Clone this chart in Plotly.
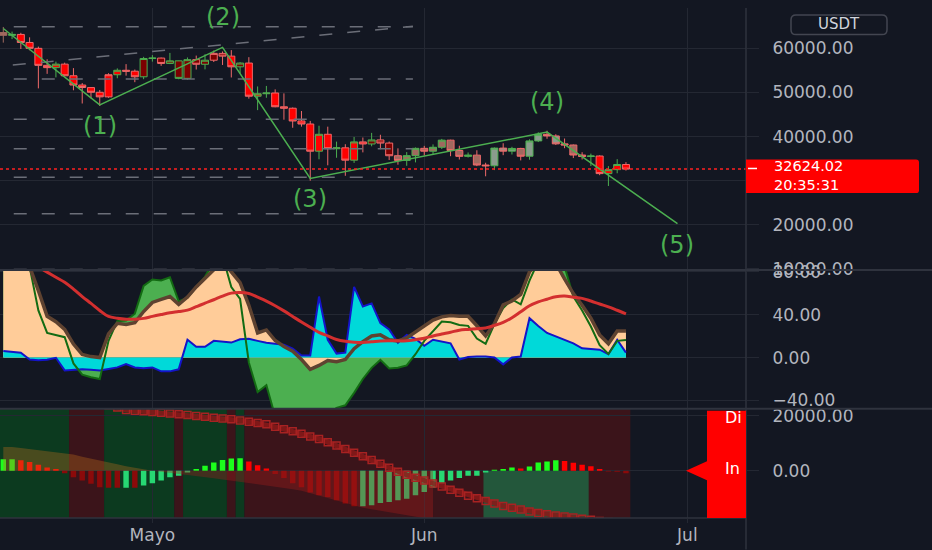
import pandas as pd
import plotly.graph_objects as go
from plotly.subplots import make_subplots

# ---------------- data ----------------
dates = pd.date_range("2021-04-14", periods=72, freq="D")

open_ = [63575, 62959, 63159, 61334, 60006, 56150, 55633, 56425, 53787, 51690,
         51110, 50047, 49004, 54021, 55033, 54824, 53556, 57697, 57797, 56578,
         57169, 53200, 57436, 56393, 57314, 58862, 58240, 55816, 56670, 49150,
         49716, 49880, 46760, 46431, 43538, 42850, 36690, 40526, 37252, 37449,
         34655, 38796, 38324, 39241, 38529, 35663, 34605, 35678, 37332, 36684,
         37575, 39188, 36840, 35520, 35797, 33552, 33381, 37389, 36693, 37313,
         35546, 39020, 40516, 40144, 38349, 38092, 35820, 35483, 35600, 31608,
         32509, 33675]
high = [64854, 63800, 63520, 62500, 60400, 57526, 57000, 56757, 55521, 52131,
        51166, 50567, 54356, 55460, 56428, 55195, 58075, 58458, 57911, 58970,
        57200, 57936, 58360, 58650, 59500, 59300, 59600, 56862, 58000, 51367,
        51483, 50700, 49800, 46600, 45800, 43550, 42462, 42250, 38856, 38270,
        39920, 39791, 40841, 40411, 38877, 37338, 36488, 37533, 37894, 38225,
        39476, 39289, 37925, 36400, 36900, 34069, 37534, 38491, 37680, 37450,
        39380, 40978, 41330, 40527, 39559, 38202, 36457, 36137, 35750, 33298,
        34881, 34200]
low = [61300, 62100, 59850, 59580, 50931, 54221, 53421, 53695, 50500, 47500,
       48657, 46930, 48800, 53225, 53813, 52330, 53013, 57000, 56035, 56435,
       53000, 52900, 55200, 55241, 56900, 56235, 53400, 54370, 48600, 46000,
       48800, 46650, 43825, 42001, 42250, 30000, 34850, 33488, 35200, 31111,
       34031, 36419, 37800, 37134, 34684, 33632, 33379, 34153, 35666, 35920,
       37170, 35555, 34800, 35250, 33300, 31000, 32400, 35784, 35937, 34600,
       34757, 38757, 39506, 38116, 37365, 35129, 34803, 33336, 31251, 28805,
       31683, 32300]
close = [62959, 63159, 61334, 60006, 56150, 55633, 56425, 53787, 51690, 51125,
         50047, 49004, 54021, 55033, 54824, 53556, 57697, 57797, 56578, 57169,
         53200, 57436, 56393, 57314, 58862, 58240, 55816, 56670, 49150, 49716,
         49880, 46760, 46431, 43538, 42850, 36690, 40526, 37252, 37449, 34655,
         38796, 38324, 39241, 38529, 35663, 34605, 35678, 37332, 36684, 37575,
         39188, 36840, 35520, 35797, 33552, 33381, 37389, 36693, 37313, 35546,
         39020, 40516, 40144, 38349, 38092, 35820, 35483, 35600, 31608, 32509,
         33678, 32624.02]
# body colour class per candle: R red, D dark red, B brown, G grey, g green
body_cls = "BgRRRRRRRR" "RRRRRRDgDD" "DDDDDDRDRR" "RRRRRRRRRR" "RRDDDBBBBB" "BBBBBRGGGB" "GGGGBBBgRR" "RR"
# wick colour class per candle: p pink, g green, B brown
wick_cls = "Bgppppgppp" "pppgppggpg" "ggpgpppgpg" "gpppppgpgp" "gpgpppggpg" "gppgppgpgp" "ggpppppgpg" "gp"

# oscillator pane
osc_fast = [100, 100, 95, 85, 62.6, 38.6, 33.5, 26.3, 12.6, 2.8,
            0.9, 0, 22, 32, 31, 32.6, 43, 51.5, 54.3, 57,
            49.7, 56.5, 66, 74.5, 83, 90, 80, 70, 48.8, 23,
            25.8, 15.9, 10.4, 5.9, -1.8, -11, -7.4, -2.8, -3.9, -1.8,
            8.3, 14.9, 20.2, 21.2, 16.6, 15.6, 18.4, 24, 29.4, 35,
            38, 39.3, 38.6, 38.6, 29.7, 20.2, 31.6, 49.2, 52.9, 58.9,
            80, 90, 95, 88, 73.6, 59.8, 48.8, 36.8, 21.2, 12.9,
            24.8, 24.8]
osc_signal = [100, 100, 100, 85, 44, 23, 21.2, 19, -5.5, -16,
              -18.4, -20, 15.6, 34, 34.6, 41, 67, 73, 72, 75,
              52.4, 56, 65.8, 75.4, 90, 95, 65.8, 54.7, -4.6, -32.2,
              -25.8, -55, -65, -70, -70, -68, -62, -53, -47, -44.6,
              -33, -20, -9.6, -2.2, -10.3, -9.6, -7.4, 3.1, 15.6, 24.6,
              33.7, 33, 30.5, 29.6, 17.8, 12.9, 31.3, 46.2, 54.3, 49.7,
              71.8, 90, 100, 95, 85, 57, 43.9, 29, 11.6, 3.3,
              15.6, 16.4]
osc_blue = [6.2, 5.5, 4.6, -1.8, -2.5, -2, -0.2, -12, -11.5, -11,
            -11.5, -12, -10.6, -9.2, -6, -9.2, -10, -9.2, -12.9, -12.9,
            -11, 16.6, 10, 10, 15.6, 15, 14, 17, 17.5, 15.6,
            13.8, 12.9, 12, 8.3, 1.8, 1.8, 57, 16.6, 3.7, 4.6,
            66, 47.8, 50.6, 32.2, 26.2, 13.8, 21.2, 17.5, 11, 16.6,
            15.2, 13.3, -1.8, 0.5, 0.9, 0.9, 0, -6.4, 0, 0.9,
            36.8, 29.4, 23, 19.8, 16.6, 13.2, 8.6, 7.8, 7.4, 3.2,
            16.6, 4.6]
osc_ma = [104, 99, 94, 89, 84.6, 79.8, 75, 70.3, 64, 57,
          50.6, 44, 38.4, 36.8, 35.9, 35.9, 36.6, 38.5, 40.2, 41.8,
          43, 44.3, 47.5, 50.8, 54, 57.4, 60.2, 60.7, 59.9, 56.4,
          52.7, 48.4, 43.6, 38.4, 33.2, 28.3, 23.6, 20.2, 16.9, 15.2,
          14.4, 14.1, 14.7, 15.4, 15.6, 15.6, 15.6, 16.7, 18.1, 20.2,
          22, 23.7, 25.6, 26.3, 26.9, 27.6, 30, 32.9, 37.2, 42.8,
          48.4, 52, 54.5, 56.8, 57.4, 56.4, 55.3, 52.8, 50, 47.4,
          44.2, 40.8]

# bottom pane
hist = [4170, 4170, 3810, 3210, 2140, 1190, 600, -950, -2380, -3570,
        -4760, -5950, -6190, -6190, -6190, -6190, -5360, -4520, -3570, -2380,
        -1790, -600, 600, 1790, 2980, 3930, 4400, 4520, 3330, 2020,
        830, -1190, -2620, -4520, -5950, -7900, -8930, -9520, -10710, -11900,
        -12850, -12850, -12490, -11660, -11310, -10710, -10120, -8930, -7740, -6190,
        -4520, -3570, -2620, -1790, -1790, -600, 400, 600, 1190, 830,
        1550, 2980, 3330, 3810, 3570, 2860, 2140, 1670, 600, -240,
        -360, -950]
hist_cls = "GGRRRRRDDD" "DDDDLDLLLL" "LLGGGGGGRR" "RDDDDDDDDD" "DLLLLLLLLL" "LLLLLLGGGR" "GGGGRRRRRD" "DD"
slow_line = [8570, 8570, 8210, 7860, 7500, 7140, 6790, 6430, 5860, 5110,
             4360, 3570, 2930, 2320, 1640, 1000, 500, 0, -360, -710,
             -1070, -1430, -1790, -2140, -2710, -3140, -3570, -4000, -4290, -4710,
             -5210, -5710, -6210, -6710, -7290, -8180, -9070, -9960, -10860, -11710,
             -12610, -13430, -13930, -14500, -15040, -15610, -16140, -16680, -17210, -17750]
chain_line = [31000, 30400, 29800, 29200, 28600, 28000, 27400, 26800, 26200, 25600,
              25000, 24400, 23800, 22900, 22070, 21790, 21570, 21290, 21070, 20790,
              20500, 20180, 19860, 19570, 19250, 18930, 18640, 18210, 17750, 17290,
              16820, 15930, 15070, 14290, 13390, 12460, 11540, 10360, 9110, 7860,
              6540, 5250, 3930, 2500, 1070, -360, -1500, -2540, -3570, -4640,
              -5750, -6860, -7960, -9040, -10000, -10960, -11930, -12750, -13430, -14070,
              -14750, -15290, -15750, -16210, -16640, -17000, -17400, -17800, -18200, -18600,
              -19000, -19400]
band_cls = "ggggggggrrrrggggggggrgggggrg" "rrrrrrrrrrr" "rrrrrrrrrrr" "rrrrrrrrrrr" "rrrrrrrrrrr"
zone_x = ["2021-06-07 18:00", "2021-06-19 18:00"]

# drawings on the price pane
wave_x = ["2021-04-14", "2021-04-25", "2021-05-09", "2021-05-19", "2021-06-15", "2021-06-29 21:00"]
wave_y = [64500, 47200, 60220, 30500, 41030, 20270]
wave_labels = ["", "(1)", "(2)", "(3)", "(4)", "(5)"]
wave_side = [0, -1, 1, -1, 1, -1]
fib_levels = [64910, 53080, 43930, 37230, 30760, 22500, 9850]
fib_x = ["2021-04-12", "2021-05-30 17:00"]
trend_x = ["2021-04-15 02:00", "2021-05-30 17:00"]
trend_y = [56200, 65020]
last_price = close[-1]
countdown = "20:35:31"

month_ticks = ["2021-05-01", "2021-06-01", "2021-07-01"]
month_labels = ["Mayo", "Jun", "Jul"]
price_ticks = [10000, 20000, 30000, 40000, 50000, 60000]
hidden_price_ticks = [30000]          # label sits under the last-price badge
osc_ticks = [-40, 0, 40, 80]
low_ticks = [0, 20000]

for arr in (open_, high, low, close, body_cls, wick_cls, osc_fast, osc_signal, osc_blue,
            osc_ma, hist, hist_cls, chain_line, band_cls):
    assert len(arr) == len(dates), len(arr)

# ---------------- style ----------------
BG = "#131722"
GRID = "#242833"
SEP = "#2f333e"
TXT = "#b2b5be"
FONT = "DejaVu Sans"
BODY = {"R": "#ff0000", "D": "#7c0000", "B": "#a0695f", "G": "#8a9c8d", "g": "#4caf50"}
WICK = {"p": "#ef6a6a", "g": "#4caf50", "B": "#a0695f"}
HIST = {"G": "#1cff1c", "L": "#27d873", "R": "#ff0000", "D": "#8b0a0a"}
BAND = {"g": "#0c3a1f", "r": "#3b141a"}

W, H, PW, PB = 932, 550, 746, 518


def px(x):
    return x / PW


def py(y):
    return (PB - y) / PB


def round_rect(x0, y0, x1, y1, rl, rr):
    """Rounded rectangle path in paper coords from pixel box; rl/rr = left/right radius."""
    def P(x, y):
        return f"{px(x):.5f},{py(y):.5f}"
    return (f"M {P(x0 + rl, y0)} L {P(x1 - rr, y0)} Q {P(x1, y0)} {P(x1, y0 + rr)} "
            f"L {P(x1, y1 - rr)} Q {P(x1, y1)} {P(x1 - rr, y1)} L {P(x0 + rl, y1)} "
            f"Q {P(x0, y1)} {P(x0, y1 - rl)} L {P(x0, y0 + rl)} Q {P(x0, y0)} {P(x0 + rl, y0)} Z")


fig = make_subplots(rows=3, cols=1, shared_xaxes=True, vertical_spacing=0,
                    row_heights=[266, 141, 111])

# --- price pane
for lvl in fib_levels:
    fig.add_trace(go.Scatter(x=fib_x, y=[lvl, lvl], mode="lines",
                             line=dict(color="#6b6e78", width=1.5, dash="13px,15px"),
                             hoverinfo="skip"), row=1, col=1)
fig.add_trace(go.Scatter(x=trend_x, y=trend_y, mode="lines",
                         line=dict(color="#6b6e78", width=1.5, dash="13px,15px"),
                         hoverinfo="skip"), row=1, col=1)

combos = []
for b, w in zip(body_cls, wick_cls):
    if (b, w) not in combos:
        combos.append((b, w))
for b, w in combos:
    idx = [i for i in range(len(dates)) if body_cls[i] == b and wick_cls[i] == w]
    style = dict(fillcolor=BODY[b], line=dict(color=WICK[w], width=1))
    fig.add_trace(go.Candlestick(
        x=[dates[i] for i in idx], open=[open_[i] for i in idx],
        high=[high[i] for i in idx], low=[low[i] for i in idx],
        close=[close[i] for i in idx], increasing=style, decreasing=style,
        whiskerwidth=0, hoverinfo="skip"), row=1, col=1)

fig.add_trace(go.Scatter(x=wave_x, y=wave_y, mode="lines",
                         line=dict(color="#4caf50", width=1.5), hoverinfo="skip"),
              row=1, col=1)

# --- oscillator pane
fig.add_trace(go.Scatter(x=dates, y=osc_signal, mode="lines", line=dict(width=0),
                         fill="tozeroy", fillcolor="#4caf50", hoverinfo="skip"), row=2, col=1)
fig.add_trace(go.Scatter(x=dates, y=osc_fast, mode="lines", line=dict(width=0),
                         fill="tozeroy", fillcolor="#ffcc99", hoverinfo="skip"), row=2, col=1)
fig.add_trace(go.Scatter(x=dates, y=osc_blue, mode="lines", line=dict(width=0),
                         fill="tozeroy", fillcolor="#00d9d9", hoverinfo="skip"), row=2, col=1)
fig.add_trace(go.Scatter(x=dates, y=osc_blue, mode="lines",
                         line=dict(color="#1414c8", width=2), hoverinfo="skip"), row=2, col=1)
fig.add_trace(go.Scatter(x=dates, y=osc_signal, mode="lines",
                         line=dict(color="#136b13", width=2), hoverinfo="skip"), row=2, col=1)
fig.add_trace(go.Scatter(x=dates, y=osc_fast, mode="lines",
                         line=dict(color="#5e4230", width=3.5), hoverinfo="skip"), row=2, col=1)
fig.add_trace(go.Scatter(x=dates, y=osc_ma, mode="lines", line_shape="spline",
                         line=dict(color="#d32f2f", width=3), hoverinfo="skip"), row=2, col=1)

# --- bottom pane
slow_x = dates[:len(slow_line)]
fig.add_trace(go.Scatter(x=slow_x, y=[max(v, 0) for v in slow_line], mode="lines",
                         line=dict(width=0), fill="tozeroy",
                         fillcolor="rgba(190,110,30,0.35)", hoverinfo="skip"), row=3, col=1)
fig.add_trace(go.Scatter(x=slow_x, y=[min(v, 0) for v in slow_line], mode="lines",
                         line=dict(width=0), fill="tozeroy",
                         fillcolor="rgba(170,30,30,0.35)", hoverinfo="skip"), row=3, col=1)
fig.add_trace(go.Bar(x=dates, y=hist, marker=dict(color=[HIST[c] for c in hist_cls], line=dict(width=0)),
                     width=0.62 * 86400000, hoverinfo="skip"), row=3, col=1)
fig.add_trace(go.Scatter(x=dates, y=chain_line, mode="lines+markers",
                         line=dict(color="rgba(140,25,25,0.85)", width=5),
                         marker=dict(symbol="square-open", size=7, color="#a82222",
                                     line=dict(width=1.5, color="#a82222")),
                         hoverinfo="skip"), row=3, col=1)

# ---------------- layout ----------------
x_range = ["2021-04-13 15:00", "2021-07-07 16:30"]
price_range = [9780, 69150]
osc_range = [-47.8, 81.9]
low_range = [-17143, 22500]

shapes = []
# background regime bands in bottom pane
start = 0
for i in range(1, len(band_cls) + 1):
    if i == len(band_cls) or band_cls[i] != band_cls[start]:
        shapes.append(dict(type="rect", xref="x3", yref="y3 domain",
                           x0=dates[start] - pd.Timedelta(hours=12),
                           x1=dates[i - 1] + pd.Timedelta(hours=12), y0=0, y1=1,
                           fillcolor=BAND[band_cls[start]], line=dict(width=0), layer="below"))
        start = i
shapes.append(dict(type="rect", xref="x3", yref="y3", x0=zone_x[0], x1=zone_x[1],
                   y0=0, y1=low_range[0], fillcolor="#23573b", line=dict(width=0), layer="below"))
# last price line
shapes.append(dict(type="line", xref="x domain", yref="y", x0=0, x1=1, y0=last_price, y1=last_price,
                   line=dict(color="#ff2020", width=1.5, dash="dot")))
# pane separators / frame
for yy in (266, 407):
    shapes.append(dict(type="line", xref="paper", yref="paper", x0=0, x1=px(W), y0=py(yy), y1=py(yy),
                       line=dict(color=SEP, width=2)))
shapes.append(dict(type="line", xref="paper", yref="paper", x0=0, x1=1, y0=0, y1=0,
                   line=dict(color=SEP, width=1.5)))
shapes.append(dict(type="line", xref="paper", yref="paper", x0=1, x1=1, y0=py(H), y1=1,
                   line=dict(color=SEP, width=1.5)))
# price label badge
shapes.append(dict(type="path", xref="paper", yref="paper", path=round_rect(746, 154, 919, 188, 0, 3),
                   fillcolor="#ff0000", line=dict(width=0), layer="above"))
shapes.append(dict(type="line", xref="paper", yref="paper", x0=px(748), x1=px(757),
                   y0=py(163), y1=py(163), line=dict(color="#ffffff", width=1.5), layer="above"))
# USDT badge
shapes.append(dict(type="path", xref="paper", yref="paper", path=round_rect(791, 7, 887, 27, 5, 5),
                   fillcolor=BG, line=dict(color="#434651", width=1.5)))
# indicator value labels in bottom pane
shapes.append(dict(type="rect", xref="paper", yref="paper", x0=px(707), x1=px(746),
                   y0=py(518), y1=py(409), fillcolor="#ff0000", line=dict(width=0), layer="above"))
shapes.append(dict(type="path", xref="paper", yref="paper",
                   path=f"M {px(686)},{py(470)} L {px(707.5)},{py(460)} L {px(707.5)},{py(480)} Z",
                   fillcolor="#ff0000", line=dict(width=0), layer="above"))

annotations = []
for xv, yv, lab, side in zip(wave_x, wave_y, wave_labels, wave_side):
    if lab:
        annotations.append(dict(x=xv, y=yv, xref="x", yref="y", text=lab, showarrow=False,
                                yshift=30 if side > 0 else -21,
                                font=dict(family=FONT, size=24, color="#4caf50")))
annotations += [
    dict(x=px(772), y=py(170), xref="paper", yref="paper",
         text=f"{last_price:.2f}<br>{countdown}", showarrow=False, align="left",
         xanchor="left", yanchor="middle", font=dict(family=FONT, size=14.5, color="#ffffff")),
    dict(x=px(839), y=py(16), xref="paper", yref="paper", text="USDT", showarrow=False,
         xanchor="center", yanchor="middle", font=dict(family=FONT, size=15, color="#d1d4dc")),
    dict(x=px(723), y=py(416), xref="paper", yref="paper", text="Di", showarrow=False,
         xanchor="left", yanchor="middle", font=dict(family=FONT, size=16, color="#ffffff")),
    dict(x=px(723), y=py(468), xref="paper", yref="paper", text="In", showarrow=False,
         xanchor="left", yanchor="middle", font=dict(family=FONT, size=16, color="#ffffff")),
]

fig.update_layout(width=W, height=H, margin=dict(l=0, r=W - PW, t=0, b=H - PB),
                  paper_bgcolor=BG, plot_bgcolor=BG, showlegend=False, hovermode=False,
                  barmode="overlay", boxgap=0.2, boxgroupgap=0,
                  font=dict(family=FONT, color=TXT), shapes=shapes, annotations=annotations)

fig.update_xaxes(type="date", range=x_range, tickvals=month_ticks, ticktext=month_labels,
                 showgrid=True, gridcolor=GRID, gridwidth=1, zeroline=False, showline=False,
                 rangeslider_visible=False, ticks="")
fig.update_xaxes(row=3, col=1, showticklabels=True, ticks="outside", ticklen=4, tickcolor=GRID,
                 tickfont=dict(family=FONT, size=17, color=TXT), ticklabelstandoff=-2)

yax = dict(side="right", showgrid=True, gridcolor=GRID, gridwidth=1, zeroline=False, showline=False,
           ticks="outside", ticklen=12, tickcolor=GRID, ticklabelstandoff=10,
           tickfont=dict(family=FONT, size=17, color=TXT))
fig.update_yaxes(row=1, col=1, range=price_range, tickvals=price_ticks,
                 ticktext=["" if v in hidden_price_ticks else f"{v:.2f}" for v in price_ticks], **yax)
fig.update_yaxes(row=2, col=1, range=osc_range, tickvals=osc_ticks,
                 ticktext=[f"{v:.2f}".replace("-", "\u2212") for v in osc_ticks], **yax)
fig.update_yaxes(row=3, col=1, range=low_range, tickvals=low_ticks,
                 ticktext=[f"{v:.2f}" for v in low_ticks], **yax)

fig.write_html("out.html", config={"displayModeBar": False, "staticPlot": True},
               post_script="document.body.style.margin='0px';document.body.style.overflow='hidden';")
